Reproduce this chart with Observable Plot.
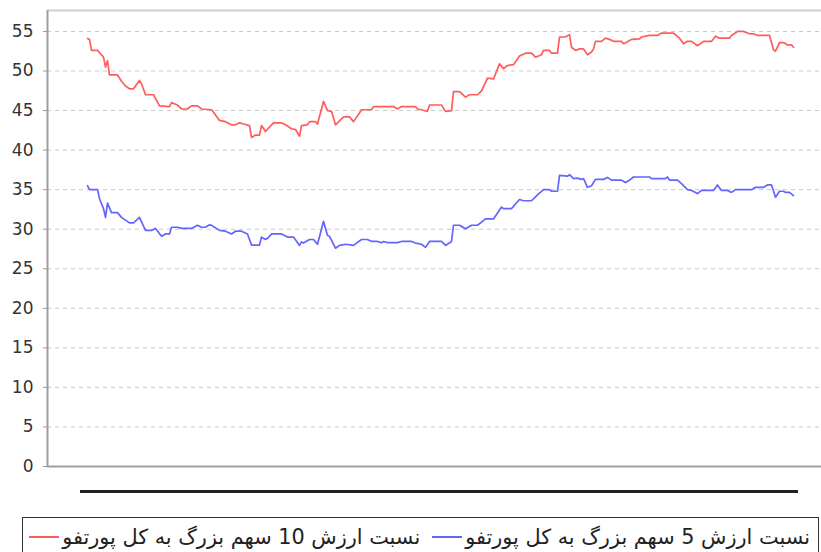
<!DOCTYPE html>
<html>
<head>
<meta charset="utf-8">
<script src="https://cdn.jsdelivr.net/npm/d3@7"></script>
<script src="https://cdn.jsdelivr.net/npm/@observablehq/plot@0.6"></script>
<style>
  html, body { margin: 0; padding: 0; background: #fff; }
  #wrap { position: relative; width: 821px; height: 552px; overflow: hidden; font-family: "DejaVu Sans", sans-serif; }
  #chart { position: absolute; left: 0; top: 0; }
  #xlabels { position: absolute; left: 80px; top: 490px; width: 718px; height: 3px; background: #222; }
  #legend { position: absolute; left: 22px; top: 517px; width: 797px; height: 44px; border: 1px solid #333; box-sizing: border-box;
            display: flex; align-items: flex-start; justify-content: flex-end; padding: 7px 8px 0 6px; gap: 12px; }
  .item { display: flex; align-items: center; }
  .sw { width: 30px; height: 2px; margin-right: 3px; }
  .txt { direction: rtl; unicode-bidi: isolate; font-size: 20.8px; color: #222; white-space: nowrap; line-height: 24px; }
</style>
</head>
<body>
<div id="wrap">
  <div id="chart"></div>
  <div id="xlabels"></div>
  <div id="legend"></div>
</div>
<script>
const seriesNames = ["نسبت ارزش 10 سهم بزرگ به کل پورتفو", "نسبت ارزش 5 سهم بزرگ به کل پورتفو"];
const seriesColors = ["#ff5c5c", "#6464ff"];
const yTicks = [0, 5, 10, 15, 20, 25, 30, 35, 40, 45, 50, 55];

const redDays = [0,1,2,5,7,8,9,10,11,15,17,19,21,23,26,27,29,33,36,41,42,45,47,50,52,55,57,62,63,66,69,72,74,76,78,81,82,84,86,87,89,92,93,97,99,102,104,106,107,110,111,114,115,118,120,122,124,127,128,131,133,136,137,142,143,153,155,157,164,165,167,170,171,177,179,182,183,186,189,191,195,197,200,203,206,208,210,213,216,219,222,224,227,228,231,232,235,236,239,241,242,244,246,248,250,252,253,254,257,259,261,263,267,268,270,272,276,277,281,285,287,293,296,298,300,302,305,308,312,314,316,321,322,325,328,331,333,335,341,343,344,346,348,350,352,353];
const redValues = [54.1,54.0,52.6,52.6,52.05,51.75,50.5,51.3,49.5,49.5,48.7,48.1,47.75,47.75,48.8,48.4,47.0,47.0,45.6,45.5,46.0,45.7,45.2,45.2,45.6,45.6,45.2,45.1,44.8,43.75,43.6,43.2,43.2,43.45,43.3,43.1,41.6,41.9,41.9,43.1,42.35,43.2,43.45,43.45,43.2,42.7,42.6,41.76,43.1,43.2,43.6,43.6,43.3,46.15,45.0,44.9,43.2,43.95,44.2,44.2,43.6,44.7,45.1,45.1,45.5,45.5,45.2,45.5,45.5,45.2,45.1,44.9,45.7,45.7,44.9,45.0,47.4,47.4,46.7,47.0,47.0,47.5,49.1,49.0,50.9,50.3,50.7,50.8,51.9,52.25,52.25,51.75,52.05,52.6,52.6,52.25,52.25,54.3,54.3,54.6,53.0,52.6,52.8,52.8,52.05,52.4,52.8,53.75,53.75,54.15,54.0,53.75,53.75,53.45,53.7,54.0,54.07,54.3,54.5,54.5,54.8,54.8,54.15,53.45,53.75,53.75,53.2,53.75,53.75,54.4,54.15,54.15,54.5,55.0,55.0,54.7,54.7,54.5,54.5,52.7,52.5,53.6,53.6,53.3,53.3,53.0];

const blueDays = [0,1,5,6,8,9,10,12,15,17,21,23,26,29,32,34,37,39,41,42,45,47,52,55,57,59,61,62,66,69,72,74,77,80,82,86,87,89,90,92,97,100,103,106,107,108,111,113,115,118,120,121,124,126,129,133,137,140,142,145,147,148,150,155,157,162,164,167,169,171,177,179,182,183,186,189,192,195,197,199,203,207,208,212,216,218,222,225,228,231,232,235,236,240,241,243,245,247,248,250,252,254,258,260,262,267,269,271,273,281,282,289,290,291,295,297,300,302,305,307,313,315,317,320,322,324,332,334,338,340,342,344,346,348,349,351,353];
const blueValues = [35.5,35.0,35.0,33.85,32.6,31.5,33.3,32.1,32.1,31.5,30.8,30.8,31.5,29.85,29.85,30.1,29.1,29.4,29.4,30.25,30.25,30.1,30.1,30.5,30.25,30.25,30.55,30.5,29.85,29.75,29.4,29.75,29.75,29.4,28.0,28.0,29.0,28.7,28.85,29.4,29.4,29.0,29.0,27.95,28.4,28.25,28.7,28.7,28.1,31.0,29.2,29.1,27.6,27.95,28.1,27.95,28.7,28.7,28.45,28.45,28.3,28.45,28.3,28.3,28.45,28.45,28.25,28.1,27.7,28.45,28.45,27.95,28.45,30.5,30.5,30.05,30.5,30.5,30.9,31.3,31.3,32.8,32.6,32.6,33.75,33.6,33.6,34.35,35.0,35.0,34.8,34.8,36.8,36.7,36.9,36.4,36.45,36.3,36.4,35.3,35.5,36.3,36.3,36.55,36.2,36.2,35.9,36.2,36.6,36.6,36.4,36.4,36.6,36.2,36.2,35.75,35.0,34.9,34.5,34.9,34.9,35.6,34.9,34.9,34.65,35.0,35.0,35.3,35.3,35.6,35.6,34.05,34.8,34.8,34.65,34.65,34.25];

const rows = [
  ...redDays.map((d, i) => ({day: d, value: redValues[i], series: seriesNames[0]})),
  ...blueDays.map((d, i) => ({day: d, value: blueValues[i], series: seriesNames[1]}))
];

const xDomain = [-20, 367];
const yTop = 57.65;

const chart = Plot.plot({
  width: 821,
  height: 476,
  marginTop: 10,
  marginBottom: 10,
  marginLeft: 47,
  marginRight: 0,
  style: {fontFamily: "DejaVu Sans, sans-serif", background: "#fff"},
  x: {domain: xDomain, axis: null},
  y: {domain: [0, yTop], axis: null},
  color: {domain: seriesNames, range: seriesColors},
  marks: [
    Plot.gridY(yTicks.filter(t => t > 0), {stroke: "#c8c8c8", strokeOpacity: 1, strokeDasharray: "4,4", strokeWidth: 1}),
    Plot.ruleY([yTop], {stroke: "#d0d0d0", strokeWidth: 2}),
    Plot.ruleY([0], {stroke: "#a0a0a0", strokeWidth: 2}),
    Plot.ruleX([xDomain[0]], {stroke: "#a0a0a0", strokeWidth: 2}),
    Plot.axisY({ticks: yTicks, tickSize: 4, tickPadding: 10, fontSize: 17, color: "#333", stroke: "#999", label: null, tickFormat: d => String(d)}),
    Plot.line(rows, {x: "day", y: "value", z: "series", stroke: "series", strokeWidth: 1.7, curve: "linear"})
  ]
});
document.getElementById("chart").appendChild(chart);

const legend = document.getElementById("legend");
seriesNames.forEach((name, i) => {
  const item = document.createElement("div");
  item.className = "item";
  const sw = document.createElement("div");
  sw.className = "sw";
  sw.style.background = seriesColors[i];
  const txt = document.createElement("span");
  txt.className = "txt";
  txt.textContent = name;
  item.appendChild(sw);
  item.appendChild(txt);
  legend.appendChild(item);
});
</script>
</body>
</html>
